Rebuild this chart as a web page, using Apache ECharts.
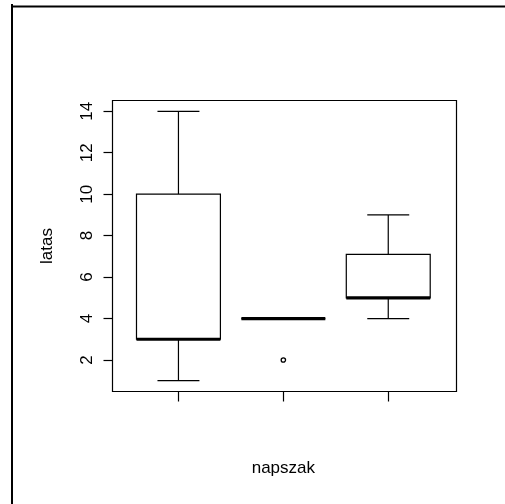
<!DOCTYPE html>
<html>
<head>
<meta charset="utf-8">
<script src="https://cdn.jsdelivr.net/npm/echarts@6/dist/echarts.min.js"></script>
<style>html,body{margin:0;padding:0;background:#fff}#c{width:505px;height:504px}</style>
</head>
<body>
<div id="c"></div>
<script>
const categories = ['1', '2', '3'];
const lowWhisker = [1, 4, 4];
const lowerHinge = [3, 4, 5];
const medians = [3, 4, 5];
const upperHinge = [10, 4, 7.1];
const highWhisker = [14, 4, 9];
const outlierGroup = [1];
const outlierValue = [2];
const yTicks = [2, 4, 6, 8, 10, 12, 14];
const yRange = [0.48, 14.52];
const xTitle = 'napszak';
const yTitle = 'latas';

const FONT = "'Liberation Sans', Arial, sans-serif";
const boxData = categories.map((c, i) => [i, lowWhisker[i], lowerHinge[i], medians[i], upperHinge[i], highWhisker[i]]);
const outlierData = outlierGroup.map((g, i) => [g, outlierValue[i]]);

const chart = echarts.init(document.getElementById('c'), null, {renderer: 'canvas'});

function renderBox(params, api) {
  const x = api.value(0);
  const band = api.size([1, 0])[0];
  const hw = band * 0.4, cw = band * 0.2;
  const pMin = api.coord([x, api.value(1)]);
  const pQ1 = api.coord([x, api.value(2)]);
  const pMed = api.coord([x, api.value(3)]);
  const pQ3 = api.coord([x, api.value(4)]);
  const pMax = api.coord([x, api.value(5)]);
  const cx = pMed[0];
  const ls = {stroke: '#000', lineWidth: 1.2, fill: null};
  return {
    type: 'group',
    children: [
      {type: 'line', shape: {x1: cx, y1: pQ3[1], x2: cx, y2: pMax[1]}, style: ls},
      {type: 'line', shape: {x1: cx, y1: pQ1[1], x2: cx, y2: pMin[1]}, style: ls},
      {type: 'line', shape: {x1: cx - cw, y1: pMax[1], x2: cx + cw, y2: pMax[1]}, style: ls},
      {type: 'line', shape: {x1: cx - cw, y1: pMin[1], x2: cx + cw, y2: pMin[1]}, style: ls},
      {type: 'rect', shape: {x: cx - hw, y: pQ3[1], width: 2 * hw, height: pQ1[1] - pQ3[1]},
        style: {stroke: '#000', lineWidth: 1.2, fill: '#fff'}},
      {type: 'line', shape: {x1: cx - hw, y1: pMed[1], x2: cx + hw, y2: pMed[1]},
        style: {stroke: '#000', lineWidth: 3.2}}
    ]
  };
}

function renderOutlier(params, api) {
  const p = api.coord([api.value(0), api.value(1)]);
  return {type: 'circle', shape: {cx: p[0], cy: p[1], r: 2.2},
    style: {stroke: '#000', lineWidth: 1.3, fill: '#fff'}};
}

chart.setOption({
  animation: false,
  backgroundColor: '#fff',
  textStyle: {fontFamily: FONT},
  grid: [
    {left: 112.5, top: 100.5, width: 344, height: 291, show: true, borderColor: '#000', borderWidth: 1.2, backgroundColor: 'transparent'},
    {left: 126, top: 100.5, width: 314.7, height: 291}
  ],
  xAxis: [
    {gridIndex: 0, type: 'value', show: false, min: 0, max: 1},
    {gridIndex: 1, type: 'category', data: categories,
      axisLine: {show: false},
      axisTick: {show: true, alignWithLabel: true, length: 10, lineStyle: {color: '#000', width: 1.2}},
      axisLabel: {show: false},
      splitLine: {show: false},
      name: xTitle, nameLocation: 'middle', nameGap: 68,
      nameTextStyle: {fontFamily: FONT, fontSize: 17, color: '#000'}}
  ],
  yAxis: [
    {gridIndex: 0, type: 'value', min: yRange[0], max: yRange[1],
      axisLine: {show: false},
      axisTick: {show: true, length: 9, customValues: yTicks, lineStyle: {color: '#000', width: 1.2}},
      axisLabel: {show: true, rotate: 90, margin: 17, customValues: yTicks, fontFamily: FONT, fontSize: 17, color: '#000'},
      splitLine: {show: false},
      name: yTitle, nameLocation: 'middle', nameRotate: 90, nameGap: 57,
      nameTextStyle: {fontFamily: FONT, fontSize: 17, color: '#000'}},
    {gridIndex: 1, type: 'value', min: yRange[0], max: yRange[1], show: false}
  ],
  series: [
    {type: 'custom', xAxisIndex: 1, yAxisIndex: 1, data: boxData,
      encode: {x: 0, y: [1, 2, 3, 4, 5]}, renderItem: renderBox, clip: false, z: 2},
    {type: 'custom', xAxisIndex: 1, yAxisIndex: 1, data: outlierData,
      encode: {x: 0, y: 1}, renderItem: renderOutlier, clip: false, z: 3}
  ],
  graphic: [
    {type: 'line', shape: {x1: 12, y1: 6.5, x2: 505, y2: 6.5}, style: {stroke: '#000', lineWidth: 2}},
    {type: 'line', shape: {x1: 12, y1: 4, x2: 12, y2: 504}, style: {stroke: '#000', lineWidth: 2}}
  ]
});
</script>
</body>
</html>
